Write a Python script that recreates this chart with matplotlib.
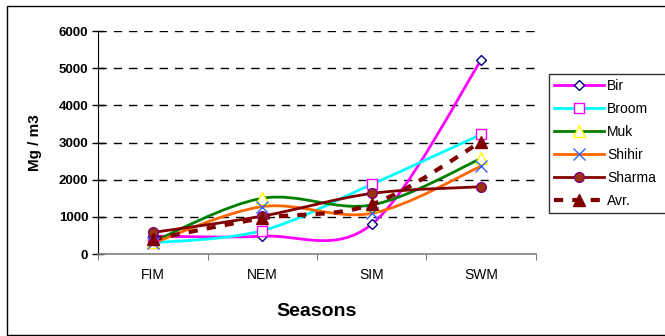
import numpy as np
import matplotlib
matplotlib.use("Agg")
import matplotlib.pyplot as plt
from matplotlib.path import Path
from matplotlib.patches import PathPatch, Rectangle
from matplotlib.lines import Line2D

plt.rcParams['font.family'] = ['Liberation Sans', 'DejaVu Sans']

seasons = ["FIM", "NEM", "SIM", "SWM"]
bir = [480, 480, 800, 5220]
broom = [300, 630, 1875, 3220]
muk = [330, 1500, 1320, 2570]
shihir = [290, 1275, 1095, 2365]
sharma = [580, 1020, 1630, 1810]
avr = [395, 960, 1335, 3020]


def smooth_path(xs, ys):
    # Excel style smoothed line: cubic bezier segments (catmull-rom tangents)
    pts = np.column_stack([xs, ys]).astype(float)
    n = len(pts)
    verts = [pts[0]]
    codes = [Path.MOVETO]
    for i in range(n - 1):
        p_prev = pts[i - 1] if i > 0 else pts[i]
        p_next = pts[i + 2] if i + 2 < n else pts[i + 1]
        c1 = pts[i] + (pts[i + 1] - p_prev) / 6
        c2 = pts[i + 1] - (p_next - pts[i]) / 6
        verts += [c1, c2, pts[i + 1]]
        codes += [Path.CURVE4] * 3
    return Path(verts, codes)


series = [
    ("Bir", bir, dict(color="#FF00FF", lw=2, ls="-"),
     dict(marker="D", ms=5, mfc="white", mec="#000080", mew=1)),
    ("Broom", broom, dict(color="#00FFFF", lw=2, ls="-"),
     dict(marker="s", ms=7, mfc="white", mec="#FF00FF", mew=1)),
    ("Muk", muk, dict(color="#008000", lw=2, ls="-"),
     dict(marker="^", ms=8, mfc="white", mec="#FFFF00", mew=1)),
    ("Shihir", shihir, dict(color="#FF6600", lw=2, ls="-"),
     dict(marker="x", ms=8, mfc="none", mec="#3366FF", mew=1)),
    ("Sharma", sharma, dict(color="#800000", lw=2, ls="-"),
     dict(marker="o", ms=7, mfc="#993300", mec="#800080", mew=1)),
    ("Avr.", avr, dict(color="#800000", lw=3, ls=(0, (2.2, 2.2))),
     dict(marker="^", ms=9, mfc="#800000", mec="#800000", mew=1)),
]

fig = plt.figure(figsize=(6.65, 3.36), dpi=100)
ax = fig.add_axes([0.1474, 0.244, 0.6586, 0.6637])

x = np.arange(len(seasons))
handles = []
for name, vals, lstyle, mstyle in series:
    patch = PathPatch(smooth_path(x, vals), fill=False, edgecolor=lstyle["color"],
                      lw=lstyle["lw"], linestyle=lstyle["ls"], zorder=3)
    ax.add_patch(patch)
    ax.plot(x, vals, linestyle="none", zorder=4, **mstyle)
    handles.append(Line2D([], [], color=lstyle["color"], lw=lstyle["lw"],
                          linestyle=lstyle["ls"], **mstyle))

ax.set_xlim(-0.5, 3.5)
ax.set_ylim(0, 6000)
ax.set_yticks(range(0, 6001, 1000))
ax.set_yticklabels([str(v) for v in range(0, 6001, 1000)], fontsize=9.5, fontweight="bold")
ax.tick_params(axis="y", direction="inout", length=8, width=1, pad=3)

ax.set_xticks(np.arange(-0.5, 3.6, 1))
ax.set_xticklabels([])
ax.set_xticks(x, minor=True)
ax.set_xticklabels(seasons, minor=True, fontsize=10)
ax.tick_params(axis="x", which="major", direction="out", length=4, color="#808080")
ax.tick_params(axis="x", which="minor", length=0, pad=10)

for v in range(1000, 6001, 1000):
    ax.axhline(v, color="black", lw=1, ls=(0, (6, 5)), zorder=1)

for s in ["top", "right"]:
    ax.spines[s].set_visible(False)
ax.spines["left"].set_color("black")
ax.spines["bottom"].set_color("#808080")
ax.spines["bottom"].set_linewidth(1.2)

ax.set_xlabel("Seasons", fontsize=14, fontweight="bold", labelpad=15)
ax.set_ylabel("Mg / m3", fontsize=11, fontweight="bold", labelpad=12)

# legend box runs off the right edge of the image like in the original
leg = fig.legend(handles, [s[0] for s in series], loc="upper left",
                 bbox_to_anchor=(549 / 665, 1 - 211 / 336, 130 / 665, 137 / 336),
                 mode="expand", fontsize=10,
                 frameon=True, fancybox=False, handlelength=3.6, labelspacing=0.65,
                 borderpad=0.35, handletextpad=0.25, borderaxespad=0)
leg.get_frame().set_edgecolor("black")
leg.get_frame().set_linewidth(1)

fig.patches.append(Rectangle((7 / 665, 1 / 336), 1.2, 1 - 7 / 336, transform=fig.transFigure,
                             fill=False, edgecolor="black", lw=1))

fig.savefig("out.png", dpi=100)
